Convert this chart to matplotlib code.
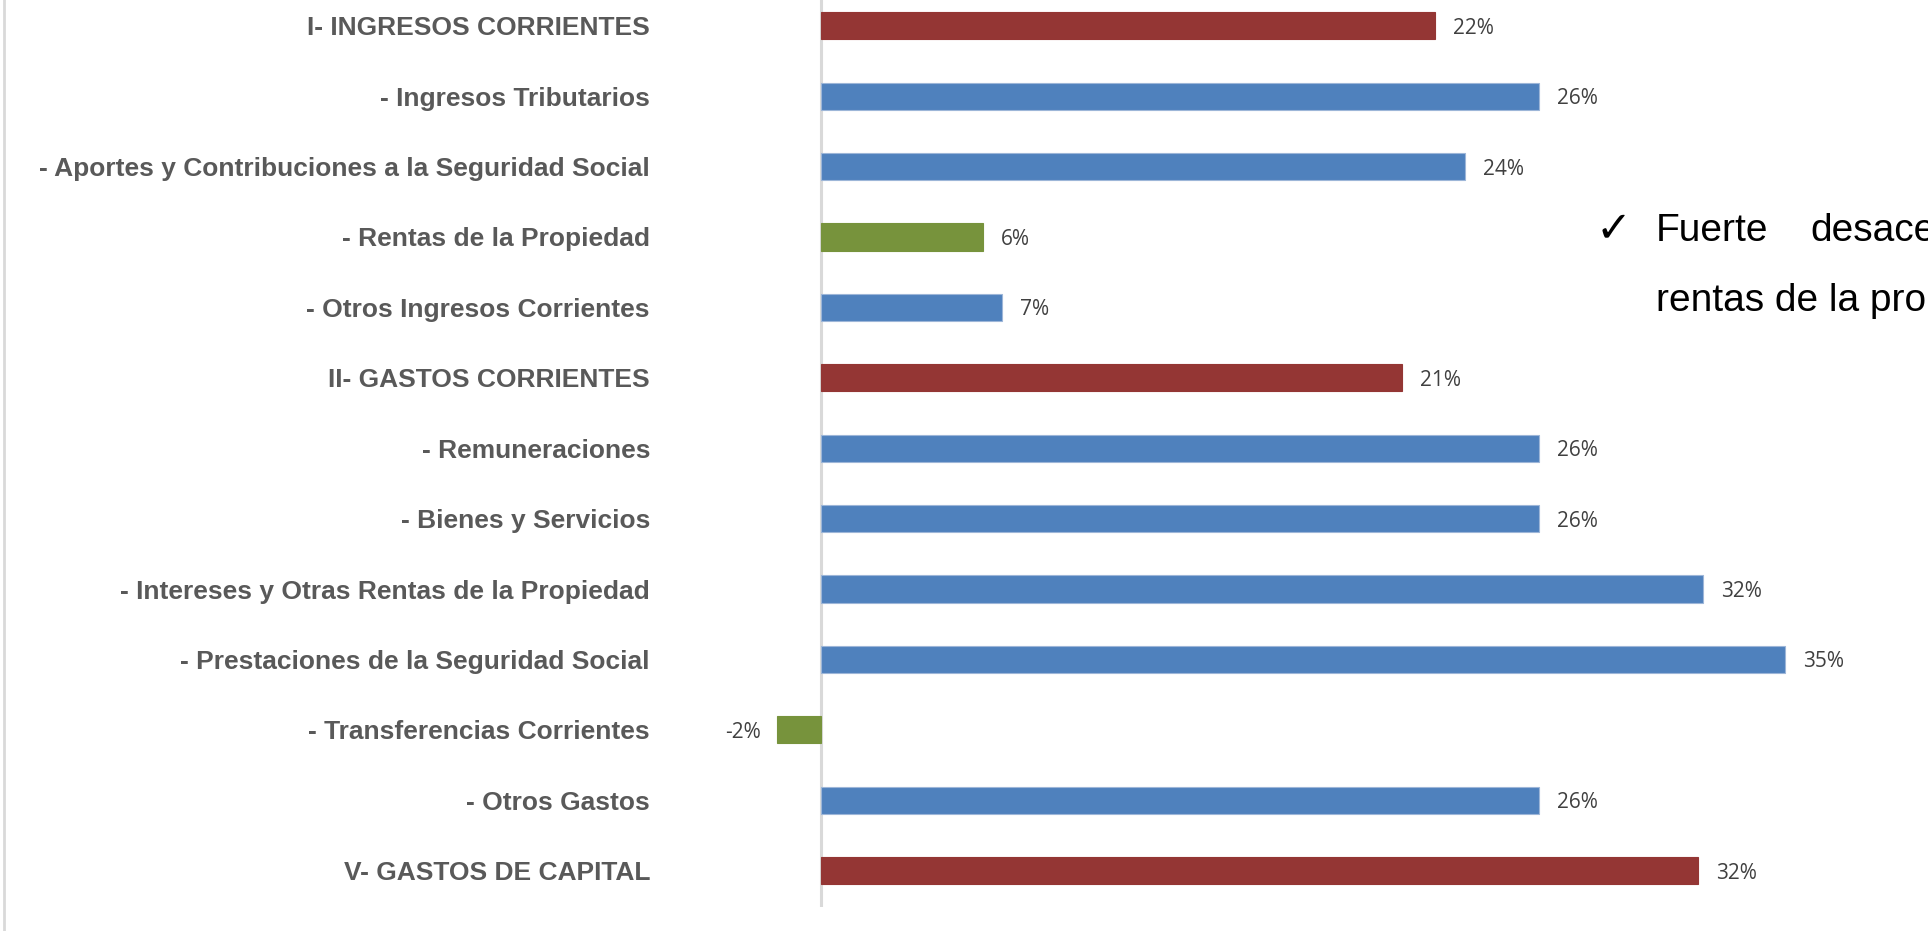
import matplotlib.pyplot as plt
from matplotlib.lines import Line2D

# Datos (variacion %)
categorias = [
    'I- INGRESOS CORRIENTES',
    '- Ingresos Tributarios',
    '- Aportes y Contribuciones a la Seguridad Social',
    '- Rentas de la Propiedad',
    '- Otros Ingresos Corrientes',
    'II- GASTOS CORRIENTES',
    '- Remuneraciones',
    '- Bienes y Servicios',
    '- Intereses y Otras Rentas de la Propiedad',
    '- Prestaciones de la Seguridad Social',
    '- Transferencias Corrientes',
    '- Otros Gastos',
    'V- GASTOS DE CAPITAL',
]
valores = [22.4, 26.2, 23.5, 5.9, 6.6, 21.2, 26.2, 26.2, 32.2, 35.2, -1.6, 26.2, 32.0]
tipo = ['total', 'sub', 'sub', 'verde', 'sub', 'total', 'sub', 'sub', 'sub', 'sub', 'verde', 'sub', 'total']

colores_tipo = {'total': '#943634', 'sub': '#4F81BD', 'verde': '#77933C'}
bordes_tipo = {'total': '#943634', 'sub': '#9DB6D8', 'verde': '#77933C'}

W, H = 1928, 931
fig = plt.figure(figsize=(W / 100, H / 100), dpi=100)

# eje: el cero en x=821 px, 27.4 px por punto porcentual
px_pct = 27.4
x0_px = 821
ax_left_px = 700
ax_bottom_px = 907
ax = fig.add_axes([ax_left_px / W, (H - ax_bottom_px) / H, 1 - ax_left_px / W, ax_bottom_px / H])

y = list(range(len(categorias)))
cols = [colores_tipo[t] for t in tipo]
eds = [bordes_tipo[t] for t in tipo]
barras = ax.barh(y, valores, height=0.385, color=cols, edgecolor=eds, linewidth=0.8, zorder=2)

ax.axvline(0, color='#d9d9d9', lw=2.2, zorder=1)

ax.set_xlim((ax_left_px - x0_px) / px_pct, (W - x0_px) / px_pct)
paso = 70.45
ax.set_ylim(12 + (ax_bottom_px - 870.6) / paso, -25.8 / paso)

ax.set_yticks(y)
ax.set_yticklabels(categorias, fontsize=19, fontweight='bold', color='#595959',
                   family=['Liberation Sans', 'DejaVu Sans'])
ax.tick_params(axis='y', length=0, pad=36)
ax.set_xticks([])
for s in ax.spines.values():
    s.set_visible(False)

# etiquetas de valor
for yi, v in zip(y, valores):
    if v >= 0:
        ax.annotate(f"{round(v):.0f}%", (v, yi), xytext=(13, -1.8), textcoords='offset points',
                    ha='left', va='center', fontsize=15, color='#404040', family='Open Sans')
    else:
        ax.annotate(f"{round(v):.0f}%", (v, yi), xytext=(-11.5, -1.8), textcoords='offset points',
                    ha='right', va='center', fontsize=15, color='#404040', family='Open Sans')

# linea gris del borde izquierdo
fig.add_artist(Line2D([4 / W, 4 / W], [0, 1], color='#d9d9d9', lw=2))

# texto de la diapositiva (cortado por el borde, igual que en el original)
fuente = ['Liberation Sans', 'DejaVu Sans']
fig.text(1596 / W, 1 - 241 / H, '\u2713', fontsize=31, family=['DejaVu Sans'], color='black', va='baseline')
fig.text(1656 / W, 1 - 241 / H, 'Fuerte', fontsize=28, family=fuente, color='black', va='baseline')
fig.text(1810 / W, 1 - 241 / H, 'desaceleración', fontsize=28, family=fuente, color='black', va='baseline')
fig.text(1656 / W, 1 - 311 / H, 'rentas de la propiedad', fontsize=28, family=fuente, color='black', va='baseline')

fig.savefig('out.png', dpi=100)
